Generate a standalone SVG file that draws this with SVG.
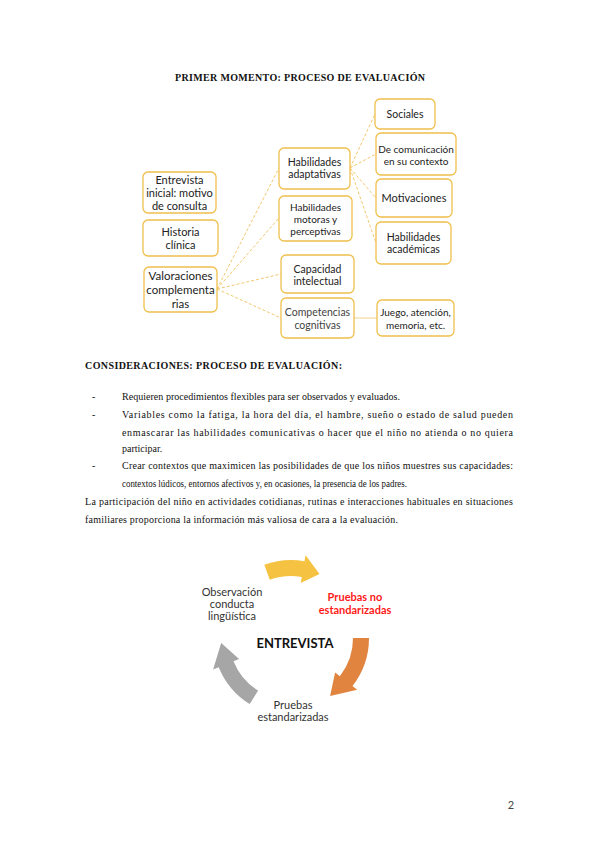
<svg xmlns="http://www.w3.org/2000/svg" width="599" height="848" viewBox="0 0 599 848">
<style>
.box{fill:#fff;stroke:#F0BF4C;stroke-width:1.3}
.bt{font-family:Lato,"Noto Sans",sans-serif;font-size:10.5px;fill:#222;text-anchor:middle}
.con{stroke:#F2C86E;stroke-width:1;fill:none;stroke-dasharray:3 2}
.solid{stroke:#F2D08A;stroke-width:1;fill:none}
.h{font-family:"Liberation Serif",serif;font-weight:bold;font-size:10px;fill:#111}
.p{font-family:"Liberation Serif",serif;font-size:10px;fill:#111}
.ct{font-family:Lato,"Noto Sans",sans-serif;font-size:11px;fill:#333;text-anchor:middle}
</style>
<rect width="599" height="848" fill="#fff"/>
<text class="h" x="300" y="81" text-anchor="middle" textLength="250" lengthAdjust="spacing">PRIMER MOMENTO: PROCESO DE EVALUACIÓN</text>

<g id="connectors">
<path class="con" d="M217 289 L279 168"/>
<path class="con" d="M217 289 L279 218"/>
<path class="con" d="M217 289 L281 274"/>
<path class="con" d="M217 289 L281 318"/>
<path class="con" d="M350 168 L375 114"/>
<path class="con" d="M350 168 L376 154"/>
<path class="con" d="M350 168 L376 198"/>
<path class="con" d="M350 168 L376 243"/>
<path class="solid" d="M354 318 L377 318"/>
</g>

<g id="entrevista"><rect class="box" x="143" y="172" width="73" height="41" rx="5"/>
<text class="bt" style="font-size:11px"><tspan x="179.5" y="184">Entrevista</tspan><tspan x="179.5" y="197">inicial: motivo</tspan><tspan x="179.5" y="210">de consulta</tspan></text></g>
<g id="historia"><rect class="box" x="143" y="220" width="75" height="36" rx="5"/>
<text class="bt" style="font-size:11px"><tspan x="180.5" y="236">Historia</tspan><tspan x="180.5" y="249">clínica</tspan></text></g>
<g id="valoraciones"><rect class="box" x="144" y="267" width="73" height="45" rx="5"/>
<text class="bt" style="font-size:11.5px"><tspan x="180.5" y="280">Valoraciones</tspan><tspan x="180.5" y="294">complementa</tspan><tspan x="180.5" y="308">rias</tspan></text></g>

<g id="adaptativas"><rect class="box" x="279" y="148" width="71" height="41" rx="5"/>
<text class="bt"><tspan x="314.5" y="166">Habilidades</tspan><tspan x="314.5" y="178">adaptativas</tspan></text></g>
<g id="motoras"><rect class="box" x="279" y="196" width="73" height="45" rx="5"/>
<text class="bt" style="font-size:10px"><tspan x="315.5" y="211">Habilidades</tspan><tspan x="315.5" y="223">motoras y</tspan><tspan x="315.5" y="235">perceptivas</tspan></text></g>
<g id="capacidad"><rect class="box" x="281" y="255" width="73" height="38" rx="5"/>
<text class="bt"><tspan x="317.5" y="273">Capacidad</tspan><tspan x="317.5" y="285">intelectual</tspan></text></g>
<g id="competencias"><rect class="box" x="281" y="298" width="73" height="40" rx="5"/>
<text class="bt" style="fill:#444"><tspan x="317.5" y="316">Competencias</tspan><tspan x="317.5" y="329">cognitivas</tspan></text></g>

<g id="sociales"><rect class="box" x="375" y="99" width="60" height="30" rx="5"/>
<text class="bt" x="405" y="118">Sociales</text></g>
<g id="comunicacion"><rect class="box" x="376" y="133" width="80" height="42" rx="5"/>
<text class="bt" style="font-size:10px"><tspan x="416" y="153">De comunicación</tspan><tspan x="416" y="165">en su contexto</tspan></text></g>
<g id="motivaciones"><rect class="box" x="376" y="179" width="76" height="38" rx="5"/>
<text class="bt" style="font-size:11px" x="414" y="202">Motivaciones</text></g>
<g id="academicas"><rect class="box" x="376" y="222" width="75" height="42" rx="5"/>
<text class="bt"><tspan x="413.5" y="241">Habilidades</tspan><tspan x="413.5" y="253">académicas</tspan></text></g>
<g id="juego"><rect class="box" x="377" y="300" width="77" height="36" rx="5"/>
<text class="bt" style="font-size:10px"><tspan x="415.5" y="316">Juego, atención,</tspan><tspan x="415.5" y="329">memoria, etc.</tspan></text></g>

<text class="h" x="85" y="369" textLength="257" lengthAdjust="spacing">CONSIDERACIONES: PROCESO DE EVALUACIÓN:</text>
<g class="p">
<text x="92" y="400">-</text>
<text x="122" y="400" textLength="278" lengthAdjust="spacing">Requieren procedimientos flexibles para ser observados y evaluados.</text>
<text x="92" y="418">-</text>
<text x="122" y="418" textLength="391" lengthAdjust="spacing">Variables como la fatiga, la hora del día, el hambre, sueño o estado de salud pueden</text>
<text x="122" y="436" textLength="391" lengthAdjust="spacing">enmascarar las habilidades comunicativas o hacer que el niño no atienda o no quiera</text>
<text x="122" y="452">participar.</text>
<text x="92" y="469">-</text>
<text x="122" y="469" textLength="391" lengthAdjust="spacing">Crear contextos que maximicen las posibilidades de que los niños muestres sus capacidades:</text>
<text x="122" y="487" textLength="285" lengthAdjust="spacingAndGlyphs">contextos lúdicos, entornos afectivos y, en ocasiones, la presencia de los padres.</text>
<text x="85" y="505" textLength="428" lengthAdjust="spacing">La participación del niño en actividades cotidianas, rutinas e interacciones habituales en situaciones</text>
<text x="85" y="523" textLength="313" lengthAdjust="spacing">familiares proporciona la información más valiosa de cara a la evaluación.</text>
</g>

<g id="cycle">
<path d="M264.3 564.7 A78 78 0 0 1 304.5 561.2 L305.6 555.3 L319.5 574.1 L300.7 582.9 L301.8 576.9 A62 62 0 0 0 269.8 579.7 Z" fill="#F5C242"/>
<path d="M369 638 A78 78 0 0 1 352.5 686 L357.2 689.7 L330.1 696 L335.1 672.5 L339.9 676.2 A62 62 0 0 0 353 638 Z" fill="#E0843F"/>
<path d="M249.7 704.1 A78 78 0 0 1 218.7 667.2 L213.1 669.5 L221.2 642.9 L239.1 659 L233.5 661.2 A62 62 0 0 0 258.1 690.6 Z" fill="#A6A6A6"/>
</g>
<g id="observacion"><text class="ct"><tspan x="232" y="596">Observación</tspan><tspan x="232" y="608">conducta</tspan><tspan x="232" y="620">lingüística</tspan></text></g>
<g id="pruebas-no"><text class="ct" style="fill:#FF1A1A;font-weight:bold"><tspan x="355" y="601">Pruebas no</tspan><tspan x="355" y="614">estandarizadas</tspan></text></g>
<g id="entrevista-c"><text class="ct" style="fill:#111;font-weight:bold;font-size:13px" x="295" y="648">ENTREVISTA</text></g>
<g id="pruebas"><text class="ct"><tspan x="293" y="709">Pruebas</tspan><tspan x="293" y="721">estandarizadas</tspan></text></g>

<text x="511" y="809" text-anchor="middle" style="font-family:Lato,sans-serif;font-size:11px;fill:#444">2</text>
</svg>
